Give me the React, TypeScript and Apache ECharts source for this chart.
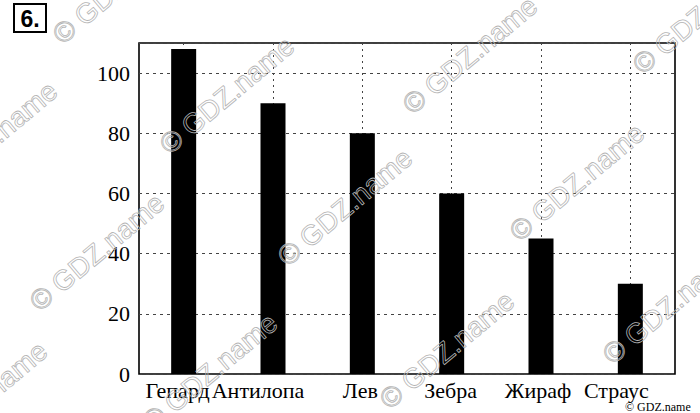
import React, { useEffect, useRef } from "react";
import * as echarts from "echarts";

const categories = ["Гепард", "Антилопа", "Лев", "Зебра", "Жираф", "Страус"];
const speeds = [108, 90, 80, 60, 45, 30];
const yTicks = [0, 20, 40, 60, 80, 100];

// how far each printed label sits left of its bar (px), as in the scan
const labelShift = [6, 15, 2, 1, 3, 14];

const watermarkCenters: [number, number][] = [
  [120, -15],
  [-10, 140],
  [227, 95],
  [470, 55],
  [700, 15],
  [97, 252],
  [345, 207],
  [577, 182],
  [-20, 400],
  [210, 372],
  [447, 350],
  [670, 305],
];

export default function App() {
  const ref = useRef<HTMLDivElement>(null);
  useEffect(() => {
    if (!ref.current) return;
    const chart = echarts.init(ref.current, null, { renderer: "svg" });
    const rot = (40 * Math.PI) / 180;
    const marks = watermarkCenters.map(([x, y]) => ({
      type: "text",
      x,
      y,
      rotation: rot,
      z: 100,
      silent: true,
      style: {
        text: "© GDZ.name",
        fontFamily: "Liberation Sans",
        fontSize: 28,
        fill: "rgba(0,0,0,0)",
        stroke: "#b4b4b4",
        lineWidth: 0.8,
        align: "center",
        verticalAlign: "middle",
      },
    }));
    const rich: Record<string, any> = {};
    labelShift.forEach((s, i) => {
      rich["a" + i] = {
        color: "#000",
        fontFamily: "Liberation Serif",
        fontSize: 22,
        padding: [0, s * 2, 0, 0],
      };
    });
    chart.setOption({
      animation: false,
      backgroundColor: "#fff",
      grid: {
        left: 139,
        right: 25,
        top: 43,
        bottom: 39,
        show: true,
        borderColor: "#000",
        borderWidth: 1.6,
      },
      xAxis: {
        type: "category",
        data: categories,
        axisLine: { show: false },
        axisTick: { show: false, alignWithLabel: true },
        axisLabel: {
          color: "#000",
          fontFamily: "Liberation Serif",
          fontSize: 22,
          margin: 5,
          interval: 0,
          formatter: (v: string, i: number) => `{a${i}|${v}}`,
          rich,
        },
        splitLine: {
          show: true,
          alignWithLabel: true,
          lineStyle: { color: "#444", type: [2, 4], width: 1 },
        },
      },
      yAxis: {
        type: "value",
        min: 0,
        max: 110,
        interval: 20,
        axisLine: { show: false },
        axisTick: { show: false },
        axisLabel: {
          color: "#000",
          fontFamily: "Liberation Serif",
          fontSize: 22,
          margin: 9,
          formatter: (v: number) => (yTicks.includes(v) ? String(v) : ""),
        },
        splitLine: {
          show: true,
          lineStyle: { color: "#444", type: [3, 4], width: 1 },
        },
      },
      series: [
        {
          type: "bar",
          data: speeds,
          barWidth: 25,
          itemStyle: { color: "#000" },
        },
      ],
      graphic: [
        {
          type: "rect",
          shape: { x: 14, y: 4, width: 32, height: 28 },
          style: { fill: "#fff", stroke: "#000", lineWidth: 2 },
        },
        {
          type: "text",
          x: 30,
          y: 19,
          style: {
            text: "6.",
            fontFamily: "Liberation Sans",
            fontWeight: "bold",
            fontSize: 23,
            fill: "#000",
            align: "center",
            verticalAlign: "middle",
          },
        },
        ...marks,
        {
          type: "text",
          x: 625,
          y: 407,
          z: 101,
          style: {
            text: "© GDZ.name",
            fontFamily: "Liberation Serif",
            fontSize: 12,
            fill: "#000",
            align: "left",
            verticalAlign: "middle",
          },
        },
      ],
    });
    return () => chart.dispose();
  }, []);
  return (
    <div
      ref={ref}
      style={{ position: "fixed", left: 0, top: 0, width: 700, height: 413 }}
    />
  );
}
